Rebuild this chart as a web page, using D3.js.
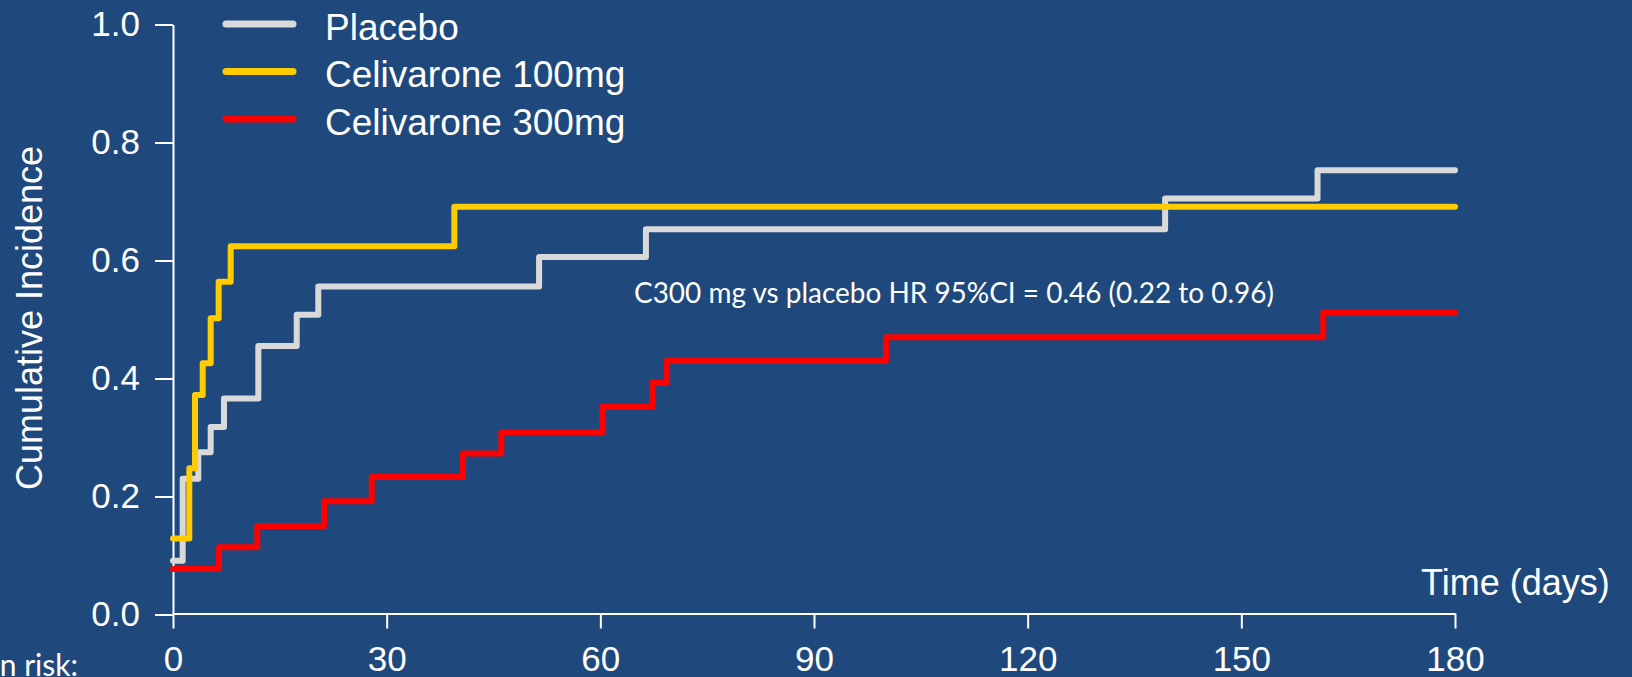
<!DOCTYPE html>
<html><head><meta charset="utf-8">
<script src="https://cdn.jsdelivr.net/npm/d3@7"></script>
<style>html,body{margin:0;padding:0;background:#1F497D;overflow:hidden}</style>
</head><body>
<svg id="chart" width="1632" height="677"></svg>
<script>
// ---- data ----
const seriesNames = ["Placebo", "Celivarone 100mg", "Celivarone 300mg"];
const seriesColors = ["#D9D9D9", "#FFCC00", "#FF0000"];
const placeboTimes  = [0, 1.36, 3.55, 5.29, 7.16, 11.98, 17.37, 20.4, 51.4, 66.4, 139.3, 160.7, 180];
const placeboValues = [0.091, 0.230, 0.275, 0.318, 0.366, 0.455, 0.508, 0.556, 0.606, 0.653, 0.705, 0.753, 0.753];
const c100Times  = [0, 2.29, 3.09, 4.17, 5.29, 6.41, 8.1, 39.5, 180];
const c100Values = [0.129, 0.248, 0.372, 0.426, 0.502, 0.564, 0.624, 0.691, 0.691];
const c300Times  = [0, 6.46, 11.84, 21.2, 27.9, 40.7, 46.1, 60.3, 67.3, 69.3, 100.1, 161.5, 180];
const c300Values = [0.077, 0.114, 0.150, 0.192, 0.233, 0.273, 0.309, 0.352, 0.393, 0.430, 0.470, 0.512, 0.512];
const xTicks = [0, 30, 60, 90, 120, 150, 180];
const yTicks = [0, 0.2, 0.4, 0.6, 0.8, 1.0];
const xLabel = "Time (days)";
const yLabel = "Cumulative Incidence";
const annotation = "C300 mg vs placebo HR 95%CI = 0.46 (0.22 to 0.96)";
const riskLabel = "Number in risk:";

const series = [
  {name: seriesNames[0], color: seriesColors[0], pts: placeboTimes.map((t,i)=>({t, v: placeboValues[i]}))},
  {name: seriesNames[1], color: seriesColors[1], pts: c100Times.map((t,i)=>({t, v: c100Values[i]}))},
  {name: seriesNames[2], color: seriesColors[2], pts: c300Times.map((t,i)=>({t, v: c300Values[i]}))}
];

const svg = d3.select("#chart");
svg.append("rect").attr("width",1632).attr("height",677).attr("fill","#1F497D");

const x = d3.scaleLinear().domain([0,180]).range([173,1455]);
const y = d3.scaleLinear().domain([0,1]).range([614.5,24.5]);
const tickFont = "'Liberation Sans', Arial, sans-serif";

// y axis
const gy = svg.append("g").attr("transform","translate(173,0)")
  .call(d3.axisLeft(y).tickValues(yTicks).tickSize(18).tickSizeOuter(0).tickPadding(15).tickFormat(d3.format(".1f")));
// x axis
const gx = svg.append("g").attr("transform",`translate(0,${y(0)-1})`)
  .call(d3.axisBottom(x).tickValues(xTicks).tickSize(15).tickSizeOuter(0).tickPadding(18));
[gx, gy].forEach(g => {
  g.selectAll("path,line").attr("stroke","#FFFFFF").attr("stroke-width",2);
  g.selectAll("text").attr("fill","#FFFFFF").style("font-family",tickFont).style("font-size","35px");
});

// lines
const line = d3.line().x(d=>x(d.t)).y(d=>y(d.v)).curve(d3.curveStepAfter);
svg.append("g").selectAll("path").data(series).join("path")
  .attr("d", d=>line(d.pts)).attr("fill","none")
  .attr("stroke", d=>d.color).attr("stroke-width",6)
  .attr("stroke-linecap","round").attr("stroke-linejoin","round");

// legend
const lg = svg.append("g");
series.forEach((s,i)=>{
  const ly = 24 + i*47.5;
  lg.append("line").attr("x1",226).attr("x2",293).attr("y1",ly).attr("y2",ly)
    .attr("stroke",s.color).attr("stroke-width",7).attr("stroke-linecap","round");
  lg.append("text").attr("x",325).attr("y",ly+15.5).text(s.name)
    .attr("fill","#FFFFFF").style("font-family",tickFont).style("font-size","37px");
});

// axis titles
svg.append("text").attr("x",1421).attr("y",595).text(xLabel)
  .attr("fill","#FFFFFF").style("font-family",tickFont).style("font-size","36px");
svg.append("text").attr("transform","translate(42,318) rotate(-90)").attr("text-anchor","middle")
  .text(yLabel).attr("fill","#FFFFFF").style("font-family",tickFont).style("font-size","36px");

// annotation (Calibri-like)
const ann = svg.append("text").attr("x",634).attr("y",303).text(annotation)
  .attr("fill","#FFFFFF").style("font-family","Lato, 'Open Sans', sans-serif").style("font-size","30px");
const w = ann.node().getComputedTextLength();
ann.style("font-size", (30*640/w).toFixed(2)+"px");

// at-risk label (cut off at left/bottom as in the reference)
svg.append("text").attr("x",78).attr("y",676).attr("text-anchor","end").text(riskLabel)
  .attr("fill","#FFFFFF").style("font-family","Lato, 'Open Sans', sans-serif").style("font-size","30px");
</script>
</body></html>
